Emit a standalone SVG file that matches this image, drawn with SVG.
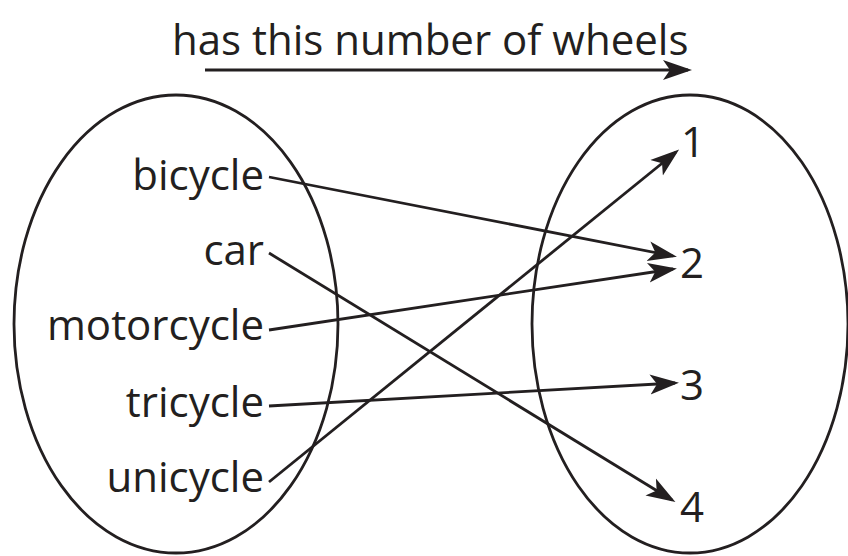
<svg xmlns="http://www.w3.org/2000/svg" width="848" height="556" viewBox="0 0 848 556">
<defs>
<style>
.t{font-family:"Open Sans","Noto Sans","DejaVu Sans",sans-serif;font-size:42px;fill:#231f20}
.r{text-anchor:end}
.sh{fill:none;stroke:#231f20;stroke-width:2.8}
.c{fill:none;stroke:#231f20;stroke-width:2.8;marker-end:url(#ah)}
</style>
<marker id="ah" markerUnits="userSpaceOnUse" markerWidth="30" markerHeight="22" refX="25" refY="10" orient="auto" viewBox="0 0 30 20">
<path d="M0,0 L29,10 L0,20 L7,10 z" fill="#231f20"/>
</marker>
</defs>
<rect width="848" height="556" fill="#fff"/>
<g id="title">
<text class="t" x="172" y="55">has this number of wheels</text>
<path class="c" d="M205,70 L688,70"/>
</g>
<g id="domain">
<ellipse class="sh" cx="176" cy="324" rx="162" ry="229"/>
</g>
<g id="range">
<ellipse class="sh" cx="690" cy="324" rx="158" ry="229"/>
</g>
<g id="bicycle"><text class="t r" x="264" y="190">bicycle</text></g>
<g id="car"><text class="t r" x="264" y="265">car</text></g>
<g id="motorcycle"><text class="t r" x="264" y="340">motorcycle</text></g>
<g id="tricycle"><text class="t r" x="264" y="417">tricycle</text></g>
<g id="unicycle"><text class="t r" x="264" y="492">unicycle</text></g>
<g id="n1"><text class="t" x="681" y="157">1</text></g>
<g id="n2"><text class="t" x="680" y="278">2</text></g>
<g id="n3"><text class="t" x="680" y="400">3</text></g>
<g id="n4"><text class="t" x="680" y="522">4</text></g>
<g id="connectors">
<path class="c" d="M269,177 L673,256"/>
<path class="c" d="M269,253 L672,500"/>
<path class="c" d="M269,330 L673,269"/>
<path class="c" d="M269,406 L675,383"/>
<path class="c" d="M269,482 L676,152"/>
</g>
</svg>
